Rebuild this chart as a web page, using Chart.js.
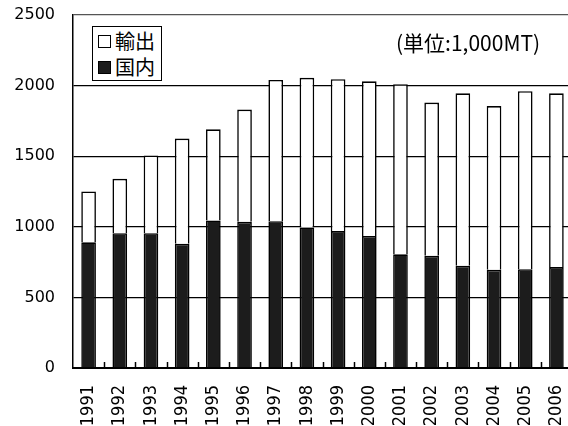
<!DOCTYPE html>
<html>
<head>
<meta charset="utf-8">
<script src="https://cdn.jsdelivr.net/npm/chart.js@4/dist/chart.umd.min.js"></script>
<style>
  html, body { margin: 0; padding: 0; background: #fff; overflow: hidden; width: 568px; height: 426px; }
  #wrap { position: relative; width: 576px; height: 426px; }
  #chart { display: block; }
  #legend {
    position: absolute; left: 92px; top: 26px; width: 63px; height: 52px;
    border: 1.5px solid #000; background: #fff; padding: 1px 0 0 5px;
    font-family: "Noto Sans CJK JP", sans-serif; font-size: 20px; line-height: 26px; color: #000;
  }
  #legend .row { display: flex; align-items: center; height: 26px; }
  #legend .sw { width: 11px; height: 11px; border: 1.5px solid #000; margin-right: 4px; flex: none; }
  #unit {
    position: absolute; left: 396px; top: 31px; white-space: nowrap; line-height: 23px;
    font-family: "Noto Sans CJK JP", sans-serif; font-size: 21px; color: #000;
  }
</style>
</head>
<body>
<div id="wrap">
  <canvas id="chart" width="576" height="426"></canvas>
  <div id="legend"></div>
  <div id="unit">(単位:1,000MT)</div>
</div>
<script>
// Production split by year (1,000 MT)
const years = ['1991','1992','1993','1994','1995','1996','1997','1998',
               '1999','2000','2001','2002','2003','2004','2005','2006'];
const domestic = [890, 955, 955, 880, 1045, 1035, 1040, 995, 970, 935, 805, 795, 725, 695, 700, 715];
const exports  = [360, 385, 550, 745, 645, 795, 1000, 1060, 1075, 1095, 1205, 1085, 1220, 1160, 1260, 1230];
const yTicks = [0, 500, 1000, 1500, 2000, 2500];

const seriesExport = { label: '輸出', data: exports, backgroundColor: '#ffffff' };
const seriesDomestic = { label: '国内', data: domestic, backgroundColor: '#1c1c1c' };

// small upward ticks on the category axis at each category boundary
const innerTicks = {
  id: 'innerTicks',
  afterDatasetsDraw(chart) {
    const xs = chart.scales.x, bottom = chart.chartArea.bottom, ctx = chart.ctx;
    const n = chart.data.labels.length;
    ctx.save();
    ctx.strokeStyle = '#000';
    ctx.lineWidth = 1.5;
    for (let i = 1; i < n; i++) {
      const px = Math.round(xs.getPixelForDecimal(i / n)) + 0.5;
      ctx.beginPath();
      ctx.moveTo(px, bottom);
      ctx.lineTo(px, bottom - 6);
      ctx.stroke();
    }
    ctx.restore();
  }
};

const bar = { borderColor: '#000', borderWidth: 1.6, barPercentage: 0.47, categoryPercentage: 1 };

function noScalePadding(s) {
  s.paddingLeft = 0; s.paddingRight = 0; s.paddingTop = 0; s.paddingBottom = 0;
}

const chart = new Chart(document.getElementById('chart'), {
  type: 'bar',
  data: {
    labels: years,
    datasets: [
      Object.assign({}, seriesDomestic, bar),
      Object.assign({}, seriesExport, bar)
    ]
  },
  options: {
    responsive: false,
    animation: false,
    devicePixelRatio: 1,
    layout: { padding: { top: 15, right: 4, left: 0, bottom: 0 } },
    plugins: { legend: { display: false }, tooltip: { enabled: false } },
    scales: {
      x: {
        stacked: true,
        offset: true,
        grid: { drawOnChartArea: false, drawTicks: false },
        border: { color: '#000', width: 2 },
        ticks: {
          autoSkip: false, maxRotation: 90, minRotation: 90, padding: 17, color: '#000',
          font: { family: '"DejaVu Sans Condensed", "DejaVu Sans", sans-serif', size: 18 }
        },
        afterFit(s) { s.height = 58; noScalePadding(s); }
      },
      y: {
        stacked: true,
        min: yTicks[0],
        max: yTicks[yTicks.length - 1],
        afterBuildTicks(s) { s.ticks = yTicks.map(v => ({ value: v })); },
        grid: {
          drawTicks: false,
          lineWidth: 1.3,
          color: c => (c.tick && c.tick.value === 2500) ? '#555' : '#000'
        },
        border: { color: '#000', width: 1.5 },
        ticks: {
          padding: 18, color: '#000',
          font: { family: '"DejaVu Sans", sans-serif', size: 16 },
          callback: v => String(v)
        },
        afterFit(s) { s.width = 73; noScalePadding(s); }
      }
    }
  },
  plugins: [innerTicks]
});

// legend box inside the plot: export first, then domestic
const legend = document.getElementById('legend');
[seriesExport, seriesDomestic].forEach(s => {
  const row = document.createElement('div');
  row.className = 'row';
  const sw = document.createElement('span');
  sw.className = 'sw';
  sw.style.background = s.backgroundColor;
  const tx = document.createElement('span');
  tx.textContent = s.label;
  row.appendChild(sw);
  row.appendChild(tx);
  legend.appendChild(row);
});
</script>
</body>
</html>
